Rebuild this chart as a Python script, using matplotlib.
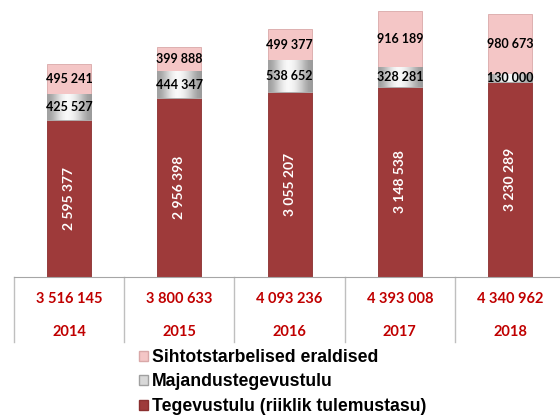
import numpy as np
import matplotlib
matplotlib.use("Agg")
import matplotlib.pyplot as plt
from matplotlib.patches import Patch
from matplotlib.transforms import blended_transform_factory

years = ["2014", "2015", "2016", "2017", "2018"]
tegevustulu = [2595377, 2956398, 3055207, 3148538, 3230289]
majandus = [425527, 444347, 538652, 328281, 130000]
sihtotstarbelised = [495241, 399888, 499377, 916189, 980673]
totals = [3516145, 3800633, 4093236, 4393008, 4340962]

series_names = ["Tegevustulu (riiklik tulemustasu)", "Majandustegevustulu",
                "Sihtotstarbelised eraldised"]

RED = "#9E3A3A"
PINK = "#F4C6C6"
GRAY = "#D8D8D8"
TABLE_RED = "#C00000"


def fmt(v):
    return f"{v:,}".replace(",", " ")


fig = plt.figure(figsize=(5.6, 4.19), dpi=100)
ax = fig.add_axes([14 / 560, 142 / 419, 546 / 560, 277 / 419])

x = np.arange(len(years))
w = 0.4
b1 = ax.bar(x, tegevustulu, w, color=RED, edgecolor="#8A2F2F", linewidth=0.6)
b2 = ax.bar(x, majandus, w, bottom=tegevustulu, color=GRAY,
            edgecolor="#B0B0B0", linewidth=0.6)
bottom3 = np.array(tegevustulu) + np.array(majandus)
b3 = ax.bar(x, sihtotstarbelised, w, bottom=bottom3, color=PINK,
            edgecolor="#D9A8A8", linewidth=0.6)

# shaded look for the middle segment
grad = np.array([[0.62, 0.85, 1.0, 0.95, 0.8, 0.6]])
for rect in b2:
    x0, y0 = rect.get_x(), rect.get_y()
    im = ax.imshow(grad, cmap="gray", vmin=0, vmax=1, aspect="auto",
                   interpolation="bicubic",
                   extent=(x0, x0 + rect.get_width(), y0, y0 + rect.get_height()),
                   zorder=rect.get_zorder() + 0.1)
    im.set_clip_path(rect)

for i in x:
    ax.text(i, tegevustulu[i] / 2, fmt(tegevustulu[i]), rotation=90,
            ha="center", va="center", color="white", fontsize=10,
            family="Lato", fontweight="bold", zorder=5)
    ax.text(i, tegevustulu[i] + majandus[i] / 2, fmt(majandus[i]),
            ha="center", va="center", color="black", fontsize=9,
            family="Lato", fontweight="bold", zorder=5)
    ax.text(i, bottom3[i] + sihtotstarbelised[i] / 2, fmt(sihtotstarbelised[i]),
            ha="center", va="center", color="black", fontsize=9,
            family="Lato", fontweight="bold", zorder=5)

ax.set_xlim(-0.5, 4.453)
ax.set_ylim(0, 4.58e6)
for s in ["top", "right", "left"]:
    ax.spines[s].set_visible(False)
ax.spines["bottom"].set_color("#A6A6A6")
ax.set_xticks([])
ax.set_yticks([])

# data table under the bars
tr = blended_transform_factory(ax.transData, ax.transAxes)
for i in x:
    ax.text(i, -0.079, fmt(totals[i]), transform=tr, ha="center", va="center",
            color=TABLE_RED, fontsize=10.5, family="Lato", fontweight="bold")
    ax.text(i, -0.199, years[i], transform=tr, ha="center", va="center",
            color=TABLE_RED, fontsize=10.5, family="Lato", fontweight="bold")
for b in np.arange(-0.5, 5, 1.0):
    ax.plot([b, b], [0, -0.235], transform=tr, color="#BFBFBF", lw=1,
            clip_on=False)

handles = [Patch(facecolor=PINK, edgecolor="#D9A8A8"),
           Patch(facecolor=GRAY, edgecolor="#A0A0A0"),
           Patch(facecolor=RED, edgecolor="#8A2F2F")]
labels = [series_names[2], series_names[1], series_names[0]]
fig.legend(handles, labels, loc="upper left",
           bbox_to_anchor=(139 / 560, 1 - 349 / 419), frameon=False,
           prop={"family": "Liberation Sans", "weight": "bold", "size": 12.7},
           handlelength=0.5, handleheight=0.5, handletextpad=0.25,
           labelspacing=0.42, borderaxespad=0, borderpad=0)

fig.savefig("out.png", dpi=100)
